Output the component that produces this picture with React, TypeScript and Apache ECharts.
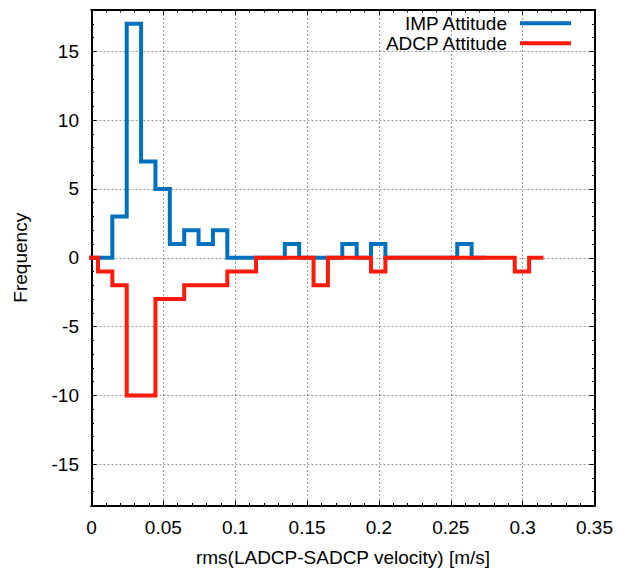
import React, { useEffect, useRef } from "react";
import * as echarts from "echarts";

// Histogram bins (left edge of first bin and bin width, in m/s)
const BIN_START = 0.0045;
const BIN_WIDTH = 0.01;

// Counts per bin
const impCounts = [0, 3, 17, 7, 5, 1, 2, 1, 2, 0, 0, 0, 0, 1, 0, 0, 0, 1, 0, 1, 0, 0, 0, 0, 0, 1, 0];
const adcpCounts = [
  -1, -2, -10, -10, -3, -3, -2, -2, -2, -1, -1, 0, 0, 0, 0, -2, 0, 0, 0, -1, 0, 0, 0, 0, 0, 0, 0, 0, 0, -1, 0,
];

const seriesNames = ["IMP Attitude", "ADCP Attitude"];
const seriesColors = ["#0072bd", "#ff1a0a"];

const xTicks = { min: 0, max: 0.35, interval: 0.05 };
const yRange = { min: -18, max: 18, major: 5 };

const FONT = "Liberation Sans, Arial, Helvetica, sans-serif";

function toSteps(counts: number[]): number[][] {
  const pts: number[][] = [[BIN_START - BIN_WIDTH, 0]];
  counts.forEach((c, i) => pts.push([BIN_START + i * BIN_WIDTH, c]));
  pts.push([BIN_START + counts.length * BIN_WIDTH, counts[counts.length - 1]]);
  return pts;
}

export default function App() {
  const ref = useRef<HTMLDivElement>(null);

  useEffect(() => {
    if (!ref.current) return;
    const chart = echarts.init(ref.current, undefined, { renderer: "svg" });

    const frameLine = { show: true, onZero: false, lineStyle: { color: "#000", width: 2, cap: "square" } };
    const gridLine = { show: true, lineStyle: { color: "#9a9a9a", width: 1, type: [2, 2] } };

    const option: any = {
      animation: false,
      backgroundColor: "#fff",
      grid: { left: 91.5, right: 32.5, top: 10, bottom: 59.5, containLabel: false },
      legend: {
        data: seriesNames,
        orient: "vertical",
        right: 56,
        top: 13.8,
        padding: 0,
        itemGap: 1,
        align: "right",
        icon: "rect",
        itemWidth: 51,
        itemHeight: 4,
        selectedMode: false,
        textStyle: { fontSize: 19, color: "#000", fontFamily: FONT, padding: [0, 8, 0, 0] },
      },
      xAxis: [
        {
          type: "value",
          position: "bottom",
          min: xTicks.min,
          max: xTicks.max,
          interval: xTicks.interval,
          axisLine: frameLine,
          axisTick: { show: true, inside: true, length: 5, lineStyle: { color: "#000", width: 1 } },
          minorTick: { show: true, splitNumber: 5, length: 2.5, lineStyle: { color: "#000", width: 1 } },
          splitLine: gridLine,
          axisLabel: { fontSize: 19, color: "#000", fontFamily: FONT, margin: 12.5 },
          name: "rms(LADCP-SADCP velocity) [m/s]",
          nameLocation: "middle",
          nameGap: 42.5,
          nameTextStyle: { fontSize: 19, color: "#000", fontFamily: FONT },
        },
        {
          type: "value",
          position: "top",
          min: xTicks.min,
          max: xTicks.max,
          interval: xTicks.interval,
          axisLine: frameLine,
          axisTick: { show: true, inside: true, length: 5, lineStyle: { color: "#000", width: 1 } },
          minorTick: { show: true, splitNumber: 5, length: 2.5, lineStyle: { color: "#000", width: 1 } },
          splitLine: { show: false },
          axisLabel: { show: false },
        },
      ],
      yAxis: [
        {
          type: "value",
          position: "left",
          min: yRange.min,
          max: yRange.max,
          minInterval: yRange.major,
          maxInterval: yRange.major,
          splitNumber: 7,
          axisLine: frameLine,
          axisTick: { show: true, inside: true, length: 5, lineStyle: { color: "#000", width: 1 } },
          splitLine: gridLine,
          axisLabel: {
            fontSize: 19,
            color: "#000",
            fontFamily: FONT,
            margin: 12.5,
            showMinLabel: false,
            showMaxLabel: false,
          },
          name: "Frequency",
          nameLocation: "middle",
          nameRotate: 90,
          nameGap: 62,
          nameTextStyle: { fontSize: 19, color: "#000", fontFamily: FONT },
        },
        {
          type: "value",
          position: "right",
          min: yRange.min,
          max: yRange.max,
          minInterval: yRange.major,
          maxInterval: yRange.major,
          splitNumber: 7,
          axisLine: frameLine,
          axisTick: { show: true, inside: true, length: 5, lineStyle: { color: "#000", width: 1 } },
          splitLine: { show: false },
          axisLabel: { show: false },
        },
        {
          type: "value",
          position: "left",
          min: yRange.min,
          max: yRange.max,
          interval: 1,
          axisLine: { show: false, onZero: false },
          axisTick: { show: true, inside: true, length: 2.5, lineStyle: { color: "#000", width: 1 } },
          splitLine: { show: false },
          axisLabel: { show: false },
        },
        {
          type: "value",
          position: "right",
          min: yRange.min,
          max: yRange.max,
          interval: 1,
          axisLine: { show: false, onZero: false },
          axisTick: { show: true, inside: true, length: 2.5, lineStyle: { color: "#000", width: 1 } },
          splitLine: { show: false },
          axisLabel: { show: false },
        },
      ],
      series: [
        {
          name: seriesNames[0],
          type: "line",
          step: "end",
          xAxisIndex: 0,
          yAxisIndex: 0,
          symbol: "none",
          color: seriesColors[0],
          lineStyle: { width: 4, color: seriesColors[0], join: "miter", cap: "butt" },
          data: toSteps(impCounts),
        },
        {
          name: seriesNames[1],
          type: "line",
          step: "end",
          xAxisIndex: 0,
          yAxisIndex: 0,
          symbol: "none",
          color: seriesColors[1],
          lineStyle: { width: 4, color: seriesColors[1], join: "miter", cap: "butt" },
          data: toSteps(adcpCounts),
        },
      ],
    };

    chart.setOption(option);
    return () => chart.dispose();
  }, []);

  return (
    <div
      ref={ref}
      style={{ position: "fixed", left: 0, top: 0, width: 627, height: 572, background: "#fff" }}
    />
  );
}
